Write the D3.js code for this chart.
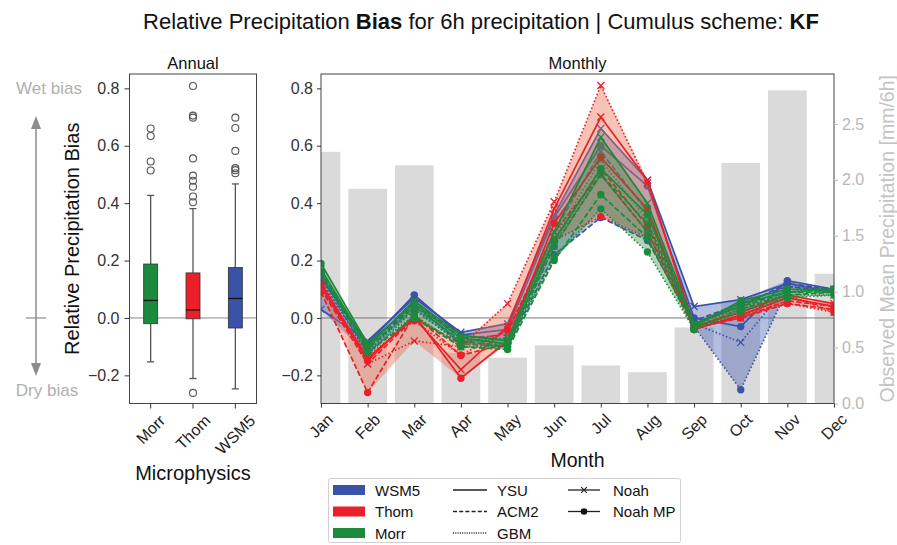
<!DOCTYPE html>
<html>
<head>
<meta charset="utf-8">
<script src="https://cdn.jsdelivr.net/npm/d3@7"></script>
<style>
  body { margin: 0; background: #fff; }
  text { font-family: "Liberation Sans", Arial, Helvetica, sans-serif; }
</style>
</head>
<body>
<svg id="chart" width="897" height="545"></svg>
<script>
// ---------------- data ----------------
const months = ["Jan", "Feb", "Mar", "Apr", "May", "Jun", "Jul", "Aug", "Sep", "Oct", "Nov", "Dec"];
const obsPrecip = [2.25, 1.92, 2.13, 0.45, 0.41, 0.52, 0.34, 0.28, 0.68, 2.15, 2.80, 1.16];

const microphysics = ["Morr", "Thom", "WSM5"];
const boxQ1 = [-0.020, -0.003, -0.035];
const boxMedian = [0.061, 0.028, 0.068];
const boxQ3 = [0.188, 0.157, 0.176];
const whiskerLow = [-0.153, -0.211, -0.247];
const whiskerHigh = [0.427, 0.381, 0.467];
const outliersMorr = [0.660, 0.634, 0.545, 0.514];
const outliersThom = [0.808, 0.705, 0.698, 0.556, 0.496, 0.478, 0.457, 0.423, 0.403, -0.261];
const outliersWSM5 = [0.698, 0.662, 0.582, 0.522, 0.515, 0.504];

// monthly relative bias, one array per microphysics / PBL / land-surface run
const wsm5_ysu_noah    = [0.03, -0.08, 0.07, -0.05, -0.02, 0.36, 0.66, 0.48, 0.04, 0.064, 0.12, 0.09];
const wsm5_ysu_noahmp  = [0.14, -0.09, 0.08, -0.06, -0.04, 0.35, 0.60, 0.46, 0.00, -0.03, 0.13, 0.10];
const wsm5_acm2_noah   = [0.15, -0.10, 0.06, -0.07, -0.06, 0.30, 0.58, 0.37, -0.01, 0.05, 0.11, 0.09];
const wsm5_acm2_noahmp = [0.16, -0.11, 0.05, -0.09, -0.10, 0.22, 0.35, 0.27, -0.02, 0.04, 0.12, 0.10];
const wsm5_gbm_noah    = [0.13, -0.12, 0.04, -0.08, -0.07, 0.28, 0.55, 0.34, -0.02, -0.085, 0.11, 0.10];
const wsm5_gbm_noahmp  = [0.14, -0.13, 0.03, -0.09, -0.09, 0.25, 0.50, 0.30, -0.03, -0.25, 0.10, 0.09];

const thom_ysu_noah    = [0.12, -0.14, 0.00, -0.18, -0.03, 0.38, 0.70, 0.48, -0.03, 0.02, 0.08, 0.05];
const thom_ysu_noahmp  = [0.11, -0.15, 0.01, -0.21, -0.08, 0.33, 0.56, 0.38, -0.04, 0.01, 0.07, 0.04];
const thom_acm2_noah   = [0.10, -0.16, 0.00, -0.09, -0.05, 0.30, 0.50, 0.30, -0.035, 0.00, 0.06, 0.04];
const thom_acm2_noahmp = [0.09, -0.26, 0.01, -0.13, -0.09, 0.27, 0.52, 0.32, -0.03, 0.00, 0.05, 0.03];
const thom_gbm_noah    = [0.13, -0.16, -0.08, -0.10, 0.05, 0.405, 0.81, 0.47, -0.02, 0.03, 0.08, 0.02];
const thom_gbm_noahmp  = [0.10, -0.13, -0.01, -0.13, -0.04, 0.27, 0.353, 0.28, -0.04, 0.01, 0.05, 0.02];

const morr_ysu_noah    = [0.17, -0.10, 0.06, -0.06, -0.08, 0.30, 0.63, 0.40, -0.02, 0.05, 0.09, 0.10];
const morr_ysu_noahmp  = [0.19, -0.09, 0.05, -0.07, -0.09, 0.27, 0.52, 0.36, -0.03, 0.06, 0.10, 0.10];
const morr_acm2_noah   = [0.16, -0.11, 0.04, -0.08, -0.10, 0.25, 0.50, 0.33, -0.02, 0.04, 0.09, 0.09];
const morr_acm2_noahmp = [0.15, -0.12, 0.00, -0.10, -0.11, 0.20, 0.43, 0.28, -0.035, 0.03, 0.08, 0.09];
const morr_gbm_noah    = [0.16, -0.10, 0.03, -0.09, -0.07, 0.26, 0.50, 0.30, -0.02, 0.04, 0.08, 0.08];
const morr_gbm_noahmp  = [0.15, -0.12, 0.01, -0.10, -0.10, 0.21, 0.38, 0.23, -0.04, 0.02, 0.07, 0.08];

const biasTicks = [-0.2, 0.0, 0.2, 0.4, 0.6, 0.8];
const obsTicks = [0.0, 0.5, 1.0, 1.5, 2.0, 2.5];

// ---------------- styles ----------------
const mpColor = { WSM5: "#3a53a8", Thom: "#ea1f28", Morr: "#1c8a3d" };
const mpFill  = { WSM5: "#3a55b0", Thom: "#ea7050", Morr: "#2a8a3a" };
const mpFillOpacity = { WSM5: 0.38, Thom: 0.42, Morr: 0.36 };
const pblDash = { YSU: null, ACM2: "5.5,2.4", GBM: "1.5,2.2" };

const runs = [
  { mp: "WSM5", pbl: "YSU",  lsm: "Noah",   values: wsm5_ysu_noah },
  { mp: "WSM5", pbl: "YSU",  lsm: "NoahMP", values: wsm5_ysu_noahmp },
  { mp: "WSM5", pbl: "ACM2", lsm: "Noah",   values: wsm5_acm2_noah },
  { mp: "WSM5", pbl: "ACM2", lsm: "NoahMP", values: wsm5_acm2_noahmp },
  { mp: "WSM5", pbl: "GBM",  lsm: "Noah",   values: wsm5_gbm_noah },
  { mp: "WSM5", pbl: "GBM",  lsm: "NoahMP", values: wsm5_gbm_noahmp },
  { mp: "Thom", pbl: "YSU",  lsm: "Noah",   values: thom_ysu_noah },
  { mp: "Thom", pbl: "YSU",  lsm: "NoahMP", values: thom_ysu_noahmp },
  { mp: "Thom", pbl: "ACM2", lsm: "Noah",   values: thom_acm2_noah },
  { mp: "Thom", pbl: "ACM2", lsm: "NoahMP", values: thom_acm2_noahmp },
  { mp: "Thom", pbl: "GBM",  lsm: "Noah",   values: thom_gbm_noah },
  { mp: "Thom", pbl: "GBM",  lsm: "NoahMP", values: thom_gbm_noahmp },
  { mp: "Morr", pbl: "YSU",  lsm: "Noah",   values: morr_ysu_noah },
  { mp: "Morr", pbl: "YSU",  lsm: "NoahMP", values: morr_ysu_noahmp },
  { mp: "Morr", pbl: "ACM2", lsm: "Noah",   values: morr_acm2_noah },
  { mp: "Morr", pbl: "ACM2", lsm: "NoahMP", values: morr_acm2_noahmp },
  { mp: "Morr", pbl: "GBM",  lsm: "Noah",   values: morr_gbm_noah },
  { mp: "Morr", pbl: "GBM",  lsm: "NoahMP", values: morr_gbm_noahmp }
];
const boxOutliers = { Morr: outliersMorr, Thom: outliersThom, WSM5: outliersWSM5 };

// ---------------- layout ----------------
const svg = d3.select("#chart");
const plotTop = 74, plotBottom = 403.5;
const annual = { left: 129.5, right: 256.5 };
const monthly = { left: 321, right: 834 };

const yBias = d3.scaleLinear().domain([-0.298, 0.85]).range([plotBottom, plotTop]);
const yObs = d3.scaleLinear().domain([0, 2.946]).range([plotBottom, plotTop]);
const xMp = d3.scaleBand().domain(microphysics).range([annual.left, annual.right]);
const xMonth = d3.scalePoint().domain(months).range([monthly.left, monthly.right]);

const fmt1 = d3.format(".1f");
const axisColor = "#333";
const lightGray = "#b8b8b8";
const tickFont = 16;

function styleAxis(g, color, fontSize) {
  g.select(".domain").remove();
  g.selectAll(".tick line").attr("stroke", color);
  g.selectAll(".tick text").attr("fill", color).style("font-size", fontSize + "px");
}

// rotated tick labels centred below their tick (45 degree)
function rotatedLabels(g, xs, labels, yTop, fontSize) {
  labels.forEach((lab, i) => {
    const t = g.append("text")
      .attr("text-anchor", "middle")
      .attr("dominant-baseline", "central")
      .style("font-size", fontSize + "px")
      .attr("fill", "#222")
      .text(lab);
    const w = t.node().getComputedTextLength();
    const h = fontSize * 0.75;
    const half = (w * Math.SQRT1_2 + h * Math.SQRT1_2) / 2;
    t.attr("transform", `translate(${xs[i]},${yTop + half}) rotate(-45)`);
  });
}

// ---------------- title ----------------
const title = svg.append("text")
  .attr("x", 481).attr("y", 29)
  .attr("text-anchor", "middle")
  .style("font-size", "22px").attr("fill", "#111");
title.append("tspan").text("Relative Precipitation ");
title.append("tspan").style("font-weight", "bold").text("Bias");
title.append("tspan").text(" for 6h precipitation | Cumulus scheme: ");
title.append("tspan").style("font-weight", "bold").text("KF");

// ---------------- annual panel ----------------
const ga = svg.append("g");
ga.append("text").attr("x", (annual.left + annual.right) / 2).attr("y", 69)
  .attr("text-anchor", "middle").style("font-size", "16.5px").attr("fill", "#111").text("Annual");

ga.append("line")
  .attr("x1", annual.left).attr("x2", annual.right)
  .attr("y1", yBias(0)).attr("y2", yBias(0))
  .attr("stroke", "#888").attr("stroke-width", 1);

const boxW = 14, capW = 7;
microphysics.forEach((mp, i) => {
  const cx = xMp(mp) + xMp.bandwidth() / 2;
  const g = ga.append("g");
  g.append("line").attr("x1", cx).attr("x2", cx)
    .attr("y1", yBias(whiskerLow[i])).attr("y2", yBias(boxQ1[i]))
    .attr("stroke", "#555").attr("stroke-width", 1.3);
  g.append("line").attr("x1", cx).attr("x2", cx)
    .attr("y1", yBias(boxQ3[i])).attr("y2", yBias(whiskerHigh[i]))
    .attr("stroke", "#555").attr("stroke-width", 1.3);
  [whiskerLow[i], whiskerHigh[i]].forEach(v => {
    g.append("line").attr("x1", cx - capW / 2).attr("x2", cx + capW / 2)
      .attr("y1", yBias(v)).attr("y2", yBias(v))
      .attr("stroke", "#555").attr("stroke-width", 1.3);
  });
  g.append("rect")
    .attr("x", cx - boxW / 2).attr("width", boxW)
    .attr("y", yBias(boxQ3[i])).attr("height", yBias(boxQ1[i]) - yBias(boxQ3[i]))
    .attr("fill", mpColor[mp]).attr("stroke", "#333").attr("stroke-width", 0.8);
  g.append("line").attr("x1", cx - boxW / 2).attr("x2", cx + boxW / 2)
    .attr("y1", yBias(boxMedian[i])).attr("y2", yBias(boxMedian[i]))
    .attr("stroke", "#111").attr("stroke-width", 1.3);
  g.selectAll("circle.out").data(boxOutliers[mp]).enter().append("circle")
    .attr("cx", cx).attr("cy", d => yBias(d)).attr("r", 3.5)
    .attr("fill", "none").attr("stroke", "#555").attr("stroke-width", 1.1);
});

ga.append("rect")
  .attr("x", annual.left).attr("y", plotTop)
  .attr("width", annual.right - annual.left).attr("height", plotBottom - plotTop)
  .attr("fill", "none").attr("stroke", "#444").attr("stroke-width", 1);

const axA = ga.append("g").attr("transform", `translate(${annual.left},0)`)
  .call(d3.axisLeft(yBias).tickValues(biasTicks).tickFormat(fmt1).tickSize(5).tickPadding(5));
styleAxis(axA, axisColor, tickFont);

const axAx = ga.append("g").attr("transform", `translate(0,${plotBottom})`)
  .call(d3.axisBottom(xMp).tickSize(5).tickFormat(""));
styleAxis(axAx, axisColor, tickFont);
rotatedLabels(ga, microphysics.map(m => xMp(m) + xMp.bandwidth() / 2), microphysics, plotBottom + 10, 16);

ga.append("text")
  .attr("transform", `translate(79,${(plotTop + plotBottom) / 2}) rotate(-90)`)
  .attr("text-anchor", "middle").style("font-size", "20px").attr("fill", "#111")
  .text("Relative Precipitation Bias");
ga.append("text").attr("x", (annual.left + annual.right) / 2).attr("y", 480)
  .attr("text-anchor", "middle").style("font-size", "20px").attr("fill", "#111")
  .text("Microphysics");

// wet / dry bias guide
const guide = svg.append("g");
const arrowX = 36;
guide.append("text").attr("x", 49).attr("y", yBias(0.8) + 6).attr("text-anchor", "middle")
  .style("font-size", "17px").attr("fill", "#b0b0b0").text("Wet bias");
guide.append("text").attr("x", 47).attr("y", yBias(-0.2) + 21).attr("text-anchor", "middle")
  .style("font-size", "17px").attr("fill", "#b0b0b0").text("Dry bias");
guide.append("line").attr("x1", arrowX).attr("x2", arrowX)
  .attr("y1", 128).attr("y2", 364).attr("stroke", "#8c8c8c").attr("stroke-width", 1.5);
guide.append("path").attr("d", `M${arrowX - 5},129 L${arrowX},116 L${arrowX + 5},129 Z`).attr("fill", "#8c8c8c");
guide.append("path").attr("d", `M${arrowX - 5},363 L${arrowX},376 L${arrowX + 5},363 Z`).attr("fill", "#8c8c8c");
guide.append("line").attr("x1", arrowX - 10).attr("x2", arrowX + 10)
  .attr("y1", yBias(0)).attr("y2", yBias(0)).attr("stroke", "#8c8c8c").attr("stroke-width", 1.2);

// ---------------- monthly panel ----------------
const gm = svg.append("g");
gm.append("text").attr("x", (monthly.left + monthly.right) / 2).attr("y", 69)
  .attr("text-anchor", "middle").style("font-size", "16.5px").attr("fill", "#111").text("Monthly");

svg.append("defs").append("clipPath").attr("id", "monthClip")
  .append("rect").attr("x", monthly.left).attr("y", plotTop)
  .attr("width", monthly.right - monthly.left).attr("height", plotBottom - plotTop);

const plot = gm.append("g").attr("clip-path", "url(#monthClip)");
const step = xMonth.step();
const barW = step * 0.83;

plot.selectAll("rect.bar").data(months).enter().append("rect")
  .attr("class", "bar")
  .attr("x", m => xMonth(m) - barW / 2).attr("width", barW)
  .attr("y", (m, i) => yObs(obsPrecip[i]))
  .attr("height", (m, i) => plotBottom - yObs(obsPrecip[i]))
  .attr("fill", "#dadada");

plot.append("line")
  .attr("x1", monthly.left).attr("x2", monthly.right)
  .attr("y1", yBias(0)).attr("y2", yBias(0))
  .attr("stroke", "#777").attr("stroke-width", 1);

const lineGen = d3.line().x((d, i) => xMonth(months[i])).y(d => yBias(d));
const areaGen = d3.area()
  .x((d, i) => xMonth(months[i]))
  .y0(d => yBias(d[0])).y1(d => yBias(d[1]));

["WSM5", "Thom", "Morr"].forEach(mp => {
  const group = runs.filter(r => r.mp === mp);
  const env = months.map((m, i) => d3.extent(group, r => r.values[i]));
  plot.append("path").datum(env).attr("d", areaGen)
    .attr("fill", mpFill[mp]).attr("fill-opacity", mpFillOpacity[mp]).attr("stroke", "none");

  group.forEach(r => {
    const g = plot.append("g");
    g.append("path").datum(r.values).attr("d", lineGen)
      .attr("fill", "none").attr("stroke", mpColor[mp]).attr("stroke-width", 1.7)
      .attr("stroke-dasharray", pblDash[r.pbl]);
    if (r.lsm === "NoahMP") {
      g.selectAll("circle").data(r.values).enter().append("circle")
        .attr("cx", (d, i) => xMonth(months[i])).attr("cy", d => yBias(d))
        .attr("r", 3.7).attr("fill", mpColor[mp]);
    } else {
      const s = 3.5;
      g.selectAll("path.mk").data(r.values).enter().append("path")
        .attr("class", "mk")
        .attr("d", (d, i) => {
          const x = xMonth(months[i]), y = yBias(d);
          return `M${x - s},${y - s}L${x + s},${y + s}M${x - s},${y + s}L${x + s},${y - s}`;
        })
        .attr("stroke", mpColor[mp]).attr("stroke-width", 1.3).attr("fill", "none");
    }
  });
});

gm.append("rect")
  .attr("x", monthly.left).attr("y", plotTop)
  .attr("width", monthly.right - monthly.left).attr("height", plotBottom - plotTop)
  .attr("fill", "none").attr("stroke", "#444").attr("stroke-width", 1);

const axM = gm.append("g").attr("transform", `translate(${monthly.left},0)`)
  .call(d3.axisLeft(yBias).tickValues(biasTicks).tickFormat(fmt1).tickSize(4).tickPadding(4));
styleAxis(axM, axisColor, tickFont);

const axR = gm.append("g").attr("transform", `translate(${monthly.right},0)`)
  .call(d3.axisRight(yObs).tickValues(obsTicks).tickFormat(fmt1).tickSize(4).tickPadding(4));
styleAxis(axR, lightGray, tickFont);

const axMx = gm.append("g").attr("transform", `translate(0,${plotBottom})`)
  .call(d3.axisBottom(xMonth).tickSize(4).tickFormat(""));
styleAxis(axMx, axisColor, tickFont);
rotatedLabels(gm, months.map(m => xMonth(m)), months, plotBottom + 9, 16);

gm.append("text").attr("x", (monthly.left + monthly.right) / 2).attr("y", 467)
  .attr("text-anchor", "middle").style("font-size", "19.5px").attr("fill", "#111").text("Month");

gm.append("text")
  .attr("transform", `translate(894,${(plotTop + plotBottom) / 2}) rotate(-90)`)
  .attr("text-anchor", "middle").style("font-size", "19.5px").attr("fill", "#c4c4c4")
  .text("Observed Mean Precipitation [mm/6h]");

// ---------------- legend ----------------
const lg = svg.append("g");
lg.append("rect").attr("x", 328.5).attr("y", 478.5).attr("width", 352).attr("height", 64)
  .attr("rx", 2).attr("fill", "#fff").attr("stroke", "#d0d0d0");
const rowY = [490, 511.5, 533];
const legendFont = "15px";
const legendMp = ["WSM5", "Thom", "Morr"];
legendMp.forEach((mp, i) => {
  lg.append("rect").attr("x", 333).attr("y", rowY[i] - 5).attr("width", 32).attr("height", 10)
    .attr("fill", mpColor[mp]);
  lg.append("text").attr("x", 375).attr("y", rowY[i] + 5.5).style("font-size", legendFont)
    .attr("fill", "#111").text(mp);
});
const legendPbl = ["YSU", "ACM2", "GBM"];
legendPbl.forEach((p, i) => {
  lg.append("line").attr("x1", 453).attr("x2", 487).attr("y1", rowY[i]).attr("y2", rowY[i])
    .attr("stroke", "#222").attr("stroke-width", 1.3)
    .attr("stroke-dasharray", p === "ACM2" ? "4,2.2" : p === "GBM" ? "1,1.3" : null);
  lg.append("text").attr("x", 497).attr("y", rowY[i] + 5.5).style("font-size", legendFont)
    .attr("fill", "#111").text(p);
});
const legendLsm = ["Noah", "Noah MP"];
legendLsm.forEach((l, i) => {
  const y = rowY[i];
  lg.append("line").attr("x1", 568).attr("x2", 600).attr("y1", y).attr("y2", y)
    .attr("stroke", "#222").attr("stroke-width", 1.3);
  if (i === 0) {
    const s = 2.8, x = 584;
    lg.append("path").attr("d", `M${x - s},${y - s}L${x + s},${y + s}M${x - s},${y + s}L${x + s},${y - s}`)
      .attr("stroke", "#222").attr("stroke-width", 1.2);
  } else {
    lg.append("circle").attr("cx", 584).attr("cy", y).attr("r", 3.3).attr("fill", "#111");
  }
  lg.append("text").attr("x", 613).attr("y", y + 5.5).style("font-size", legendFont)
    .attr("fill", "#111").text(l);
});
</script>
</body>
</html>
